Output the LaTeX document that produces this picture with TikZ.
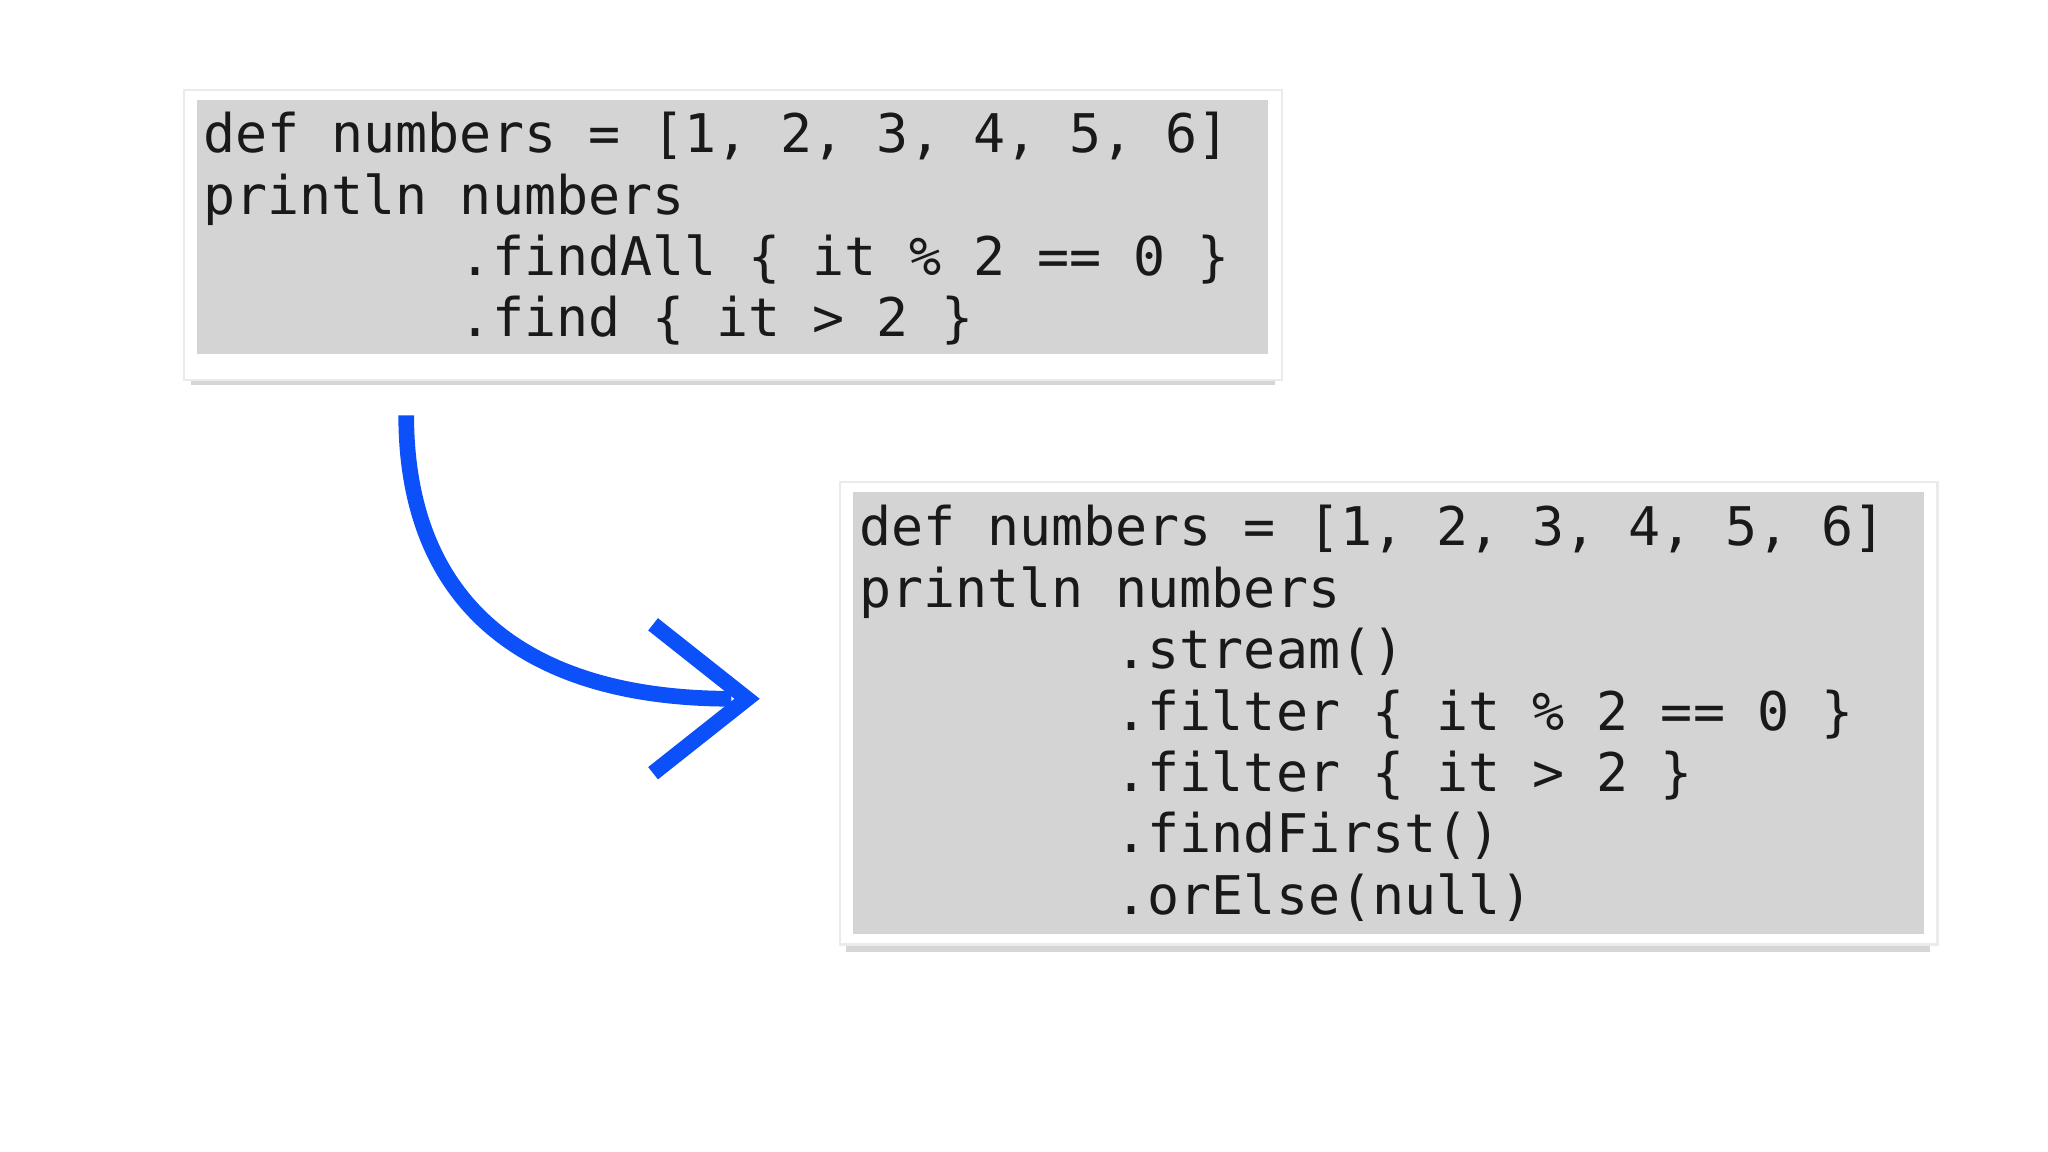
\documentclass[tikz,border=0pt]{standalone}
\usepackage{fontspec}
\setmonofont{DejaVu Sans Mono}
\begin{document}
\begin{tikzpicture}[x=0.01cm,y=-0.01cm,
  frame/.style={fill=white,draw=black!8,line width=0.5pt},
  codebg/.style={fill=black!17,draw=none},
  code/.style={anchor=base west,inner sep=0pt,font=\ttfamily\fontsize{11.6pt}{13pt}\selectfont,text=black!90},
  shade/.style={fill=black!45,opacity=0.35}]
\useasboundingbox[fill=white] (0,0) rectangle (1568,882);
% box 1
\fill[shade] (146,282) rectangle (976,295);
\node[frame,minimum width=8.4cm,minimum height=2.22cm,anchor=north west,inner sep=0] (f1) at (140,68) {};
\node[codebg,minimum width=8.2cm,minimum height=1.94cm,anchor=north west,inner sep=0] (g1) at (150,76) {};
\node[code] (a1) at (155,117) {def numbers = [1, 2, 3, 4, 5, 6]};
\node[code] (a2) at (155,164) {println numbers};
\node[code] (a3) at (155,211) {\phantom{xxxxxxxx}.findAll \{ it \% 2 == 0 \}};
\node[code] (a4) at (155,258) {\phantom{xxxxxxxx}.find \{ it > 2 \}};
% box 2
\fill[shade] (648,716) rectangle (1478,729);
\node[frame,minimum width=8.4cm,minimum height=3.54cm,anchor=north west,inner sep=0] (f2) at (642,368) {};
\node[codebg,minimum width=8.2cm,minimum height=3.38cm,anchor=north west,inner sep=0] (g2) at (652,376) {};
\node[code] (b1) at (657,418) {def numbers = [1, 2, 3, 4, 5, 6]};
\node[code] (b2) at (657,465) {println numbers};
\node[code] (b3) at (657,512) {\phantom{xxxxxxxx}.stream()};
\node[code] (b4) at (657,559) {\phantom{xxxxxxxx}.filter \{ it \% 2 == 0 \}};
\node[code] (b5) at (657,606) {\phantom{xxxxxxxx}.filter \{ it > 2 \}};
\node[code] (b6) at (657,653) {\phantom{xxxxxxxx}.findFirst()};
\node[code] (b7) at (657,700) {\phantom{xxxxxxxx}.orElse(null)};
% arrow
\coordinate (s) at (311,318);
\coordinate (t) at (572,535);
\draw[line width=0.12cm,draw={rgb,255:red,12;green,80;blue,250}] (s) .. controls (311,460) and (400,535) .. (560,535);
\draw[line width=0.12cm,draw={rgb,255:red,12;green,80;blue,250},line join=miter] (500,478) -- (t) -- (500,592);
\end{tikzpicture}
\end{document}
